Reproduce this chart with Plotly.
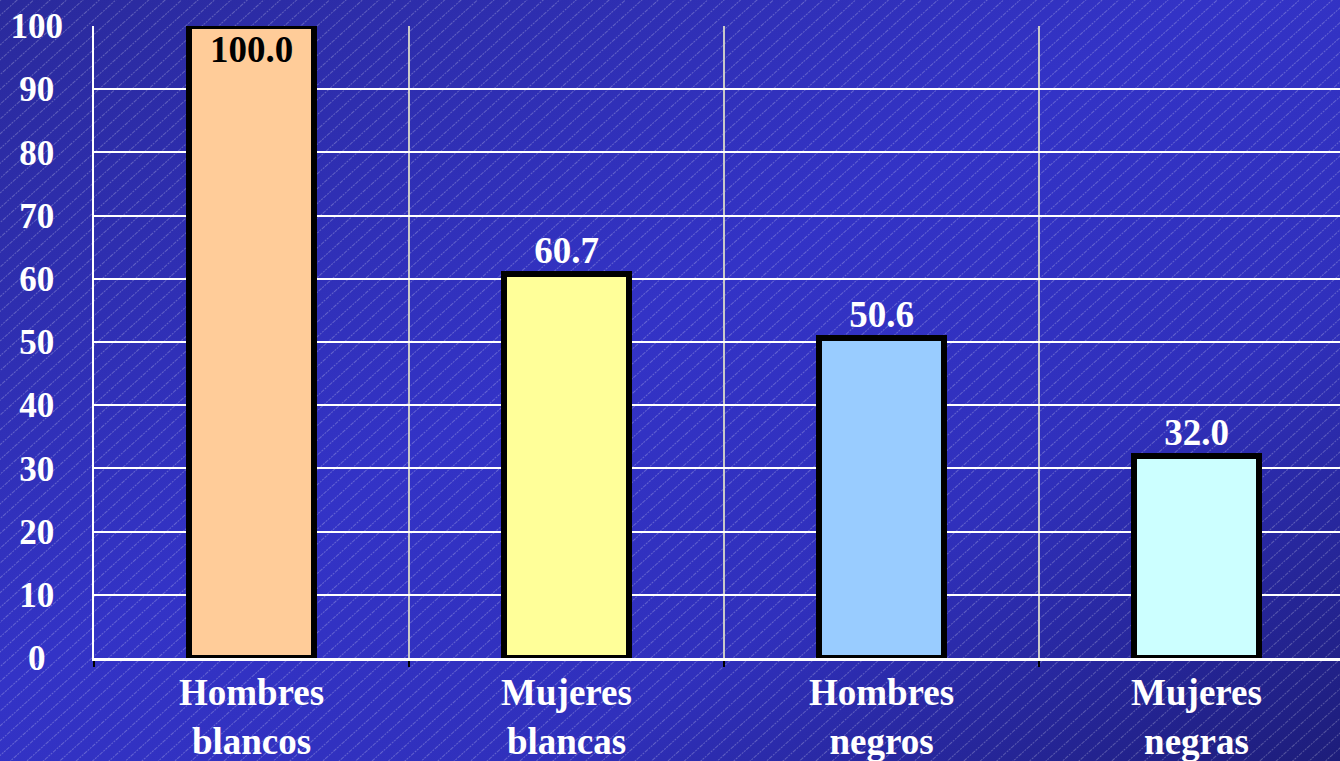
import base64
import plotly.graph_objects as go

categories = ["Hombres<br>blancos", "Mujeres<br>blancas", "Hombres<br>negros", "Mujeres<br>negras"]
values = [100.0, 60.7, 50.6, 32.0]
value_labels = ["100.0", "60.7", "50.6", "32.0"]
bar_colors = ["#FFCC99", "#FFFF99", "#99CCFF", "#CCFFFF"]
text_positions = ["inside", "outside", "outside", "outside"]
text_colors = ["black", "white", "white", "white"]
y_tick_vals = [0, 10, 20, 30, 40, 50, 60, 70, 80, 90, 100]
y_tick_text = ["0\u2002", "10\u2008", "20\u2008", "30\u2008", "40\u2008", "50\u2008",
               "60\u2008", "70\u2008", "80\u2008", "90\u2008", "100"]

W, H = 1340, 761
ML, MR, MT, MB = 94, 0, 26, 103
PW, PH = W - ML - MR, H - MT - MB

svg = f'''<svg xmlns="http://www.w3.org/2000/svg" width="{W}" height="{H}" viewBox="0 0 {W} {H}">
<defs>
<linearGradient id="g" x1="0" y1="0" x2="1" y2="1">
<stop offset="0" stop-color="#2a2a9c"/>
<stop offset="0.45" stop-color="#3333c6"/>
<stop offset="0.7" stop-color="#3030bc"/>
<stop offset="1" stop-color="#1d1d7a"/>
</linearGradient>
<pattern id="p" width="11" height="11" patternUnits="userSpaceOnUse" patternTransform="rotate(-42)">
<line x1="0" y1="0.5" x2="11" y2="0.5" stroke="#ffffff" stroke-opacity="0.24" stroke-width="1" stroke-dasharray="2,1"/>
</pattern>
</defs>
<rect width="{W}" height="{H}" fill="url(#g)"/>
<rect width="{W}" height="{H}" fill="url(#p)"/>
</svg>'''
bg_uri = "data:image/svg+xml;base64," + base64.b64encode(svg.encode()).decode()

FONT = "Liberation Serif"

fig = go.Figure()
fig.add_trace(go.Bar(
    x=categories,
    y=values,
    text=value_labels,
    textposition=text_positions,
    insidetextanchor="end",
    textangle=0,
    textfont=dict(family=FONT, size=37, color=text_colors, weight="bold"),
    outsidetextfont=dict(family=FONT, size=37, color="white", weight="bold"),
    insidetextfont=dict(family=FONT, size=37, color="black", weight="bold"),
    marker=dict(color=bar_colors, line=dict(color="black", width=6)),
    width=0.395,
    cliponaxis=False,
    hoverinfo="skip",
))

fig.update_layout(
    width=W, height=H,
    margin=dict(l=ML, r=MR, t=MT, b=MB, pad=0),
    paper_bgcolor="rgba(0,0,0,0)",
    plot_bgcolor="rgba(0,0,0,0)",
    showlegend=False,
    font=dict(family=FONT, color="white", weight="bold"),
    images=[dict(
        source=bg_uri, xref="paper", yref="paper",
        x=-ML / PW, y=1 + MT / PH, sizex=W / PW, sizey=H / PH,
        xanchor="left", yanchor="top", sizing="stretch", layer="below",
    )],
    xaxis=dict(
        type="category",
        range=[-0.5, -0.5 + PW / 315.0],
        tickson="boundaries",
        ticks="outside", ticklen=6, tickwidth=2, tickcolor="black",
        showgrid=True, gridcolor="#c8c8c8", gridwidth=2,
        showline=True, linecolor="white", linewidth=3,
        tickfont=dict(family=FONT, size=37, color="white", weight="bold"),
        ticklabelstandoff=0,
        fixedrange=True,
    ),
    yaxis=dict(
        range=[0, 100],
        tickvals=y_tick_vals, ticktext=y_tick_text,
        showgrid=True, gridcolor="white", gridwidth=2,
        showline=True, linecolor="white", linewidth=2,
        zeroline=False,
        ticks="", ticklabelstandoff=22,
        tickfont=dict(family=FONT, size=35, color="white", weight="bold"),
        fixedrange=True,
    ),
    bargap=0,
)

fig.write_html(
    "out.html",
    config={"displayModeBar": False},
    post_script="document.body.style.margin='0';document.body.style.overflow='hidden';",
)
